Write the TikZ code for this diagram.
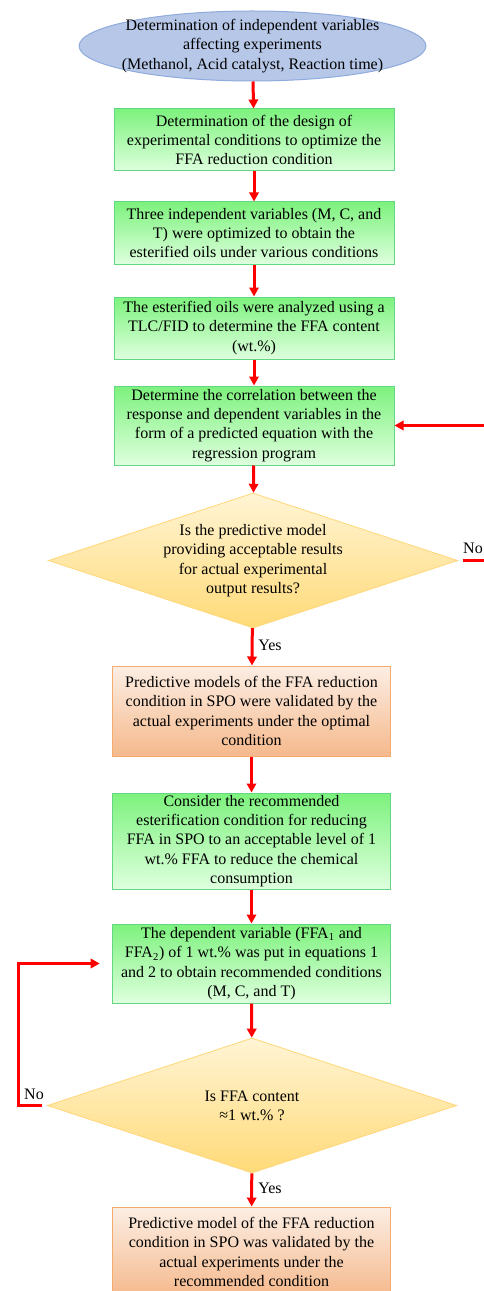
\documentclass[tikz,border=0pt]{standalone}
\usepackage{fontspec}
\setmainfont{Liberation Serif}
\usetikzlibrary{arrows.meta,shapes.geometric}
\definecolor{ovalfill}{RGB}{182,199,232}
\definecolor{ovaldraw}{RGB}{143,170,220}
\definecolor{greentop}{RGB}{125,242,125}
\definecolor{greenbot}{RGB}{222,255,222}
\definecolor{greendraw}{RGB}{100,215,130}
\definecolor{orangetop}{RGB}{252,238,228}
\definecolor{orangebot}{RGB}{245,185,140}
\definecolor{orangedraw}{RGB}{245,170,110}
\definecolor{diatop}{RGB}{255,244,212}
\definecolor{diabot}{RGB}{255,218,120}
\definecolor{diadraw}{RGB}{255,215,120}

\begin{document}
\begin{tikzpicture}[x=0.75pt,y=-0.75pt,>={Triangle[length=6.75pt,width=7pt]}]
		\useasboundingbox (0,0) rectangle (484,1291);
		\clip (0,0) rectangle (484,1291);
		\tikzstyle{every node} = [align=center,font=\fontsize{12}{14.5}\selectfont];
		\tikzstyle{startnode} = [ellipse,fill=ovalfill,draw=ovaldraw,line width=0.75pt,inner xsep=-6pt,inner ysep=-2pt,minimum width=257pt,minimum height=52.5pt];
		\tikzstyle{greenbox} = [rectangle,top color=greentop,bottom color=greenbot,draw=greendraw,line width=0.75pt,inner ysep=1pt,minimum width=210pt];
		\tikzstyle{orangebox} = [rectangle,top color=orangetop,bottom color=orangebot,draw=orangedraw,line width=0.75pt,inner ysep=1pt,minimum width=209pt];
		\tikzstyle{decision} = [diamond,aspect=3,inner sep=0pt,top color=diatop,bottom color=diabot,draw=diadraw,line width=0.6pt,minimum width=307pt,minimum height=101.25pt];
		\tikzstyle{flow} = [->,red,line width=2.25pt];
		% upper part
		\node[startnode] (start) at (252.5, 46) {Determination of independent variables\\affecting experiments\\(Methanol, Acid catalyst, Reaction time)};
		\node[greenbox,minimum height=46.5pt] (design) at (254, 140) {Determination of the design of\\experimental conditions to optimize the\\FFA reduction condition};
		\node[greenbox,minimum height=46.5pt] (optim) at (254, 233) {Three independent variables (M, C, and\\T) were optimized to obtain the\\esterified oils under various conditions};
		\node[greenbox,minimum height=46.5pt] (tlc) at (254, 328) {The esterified oils were analyzed using a\\TLC/FID to determine the FFA content\\(wt.\%)};
		\node[greenbox,minimum height=59.25pt] (regress) at (254, 425.5) {Determine the correlation between the\\response and dependent variables in the\\form of a predicted equation with the\\regression program};
		\node[decision] (accept) at (253, 560.5) {Is the predictive model\\providing acceptable results\\for actual experimental\\output results?};
		% lower part
		\node[orangebox,minimum height=67.5pt] (valid) at (251.5, 711) {Predictive models of the FFA reduction\\condition in SPO were validated by the\\actual experiments under the optimal\\condition};
		\node[greenbox,minimum width=209pt,minimum height=72pt] (recom) at (251.5, 841) {Consider the recommended\\esterification condition for reducing\\FFA in SPO to an acceptable level of 1\\wt.\% FFA to reduce the chemical\\consumption};
		\node[greenbox,minimum width=209pt,minimum height=59.25pt] (depvar) at (251.5, 963.5) {The dependent variable (FFA\textsubscript{1} and\\FFA\textsubscript{2}) of 1 wt.\% was put in equations 1\\and 2 to obtain recommended conditions\\(M, C, and T)};
		\node[decision] (ffacheck) at (252, 1105.5) {Is FFA content\\≈1 wt.\% ?};
		\node[orangebox,minimum height=67.5pt] (final) at (251.5, 1252) {Predictive model of the FFA reduction\\condition in SPO was validated by the\\actual experiments under the\\recommended condition};
		% labels
		\node (yes1) at (270, 645) {Yes};
		\node (yes2) at (270, 1188) {Yes};
		\node (no1) at (473, 548) {No};
		\node (no2) at (34, 1094) {No};
		\coordinate (noR) at (500, 560.5);
		\coordinate (noL) at (18, 1105.5);
		% connectors
		\draw[flow] (start) -- (design);
		\draw[flow] (design) -- (optim);
		\draw[flow] (optim) -- (tlc);
		\draw[flow] (tlc) -- (regress);
		\draw[flow] (regress) -- (accept);
		\draw[flow] (accept) -- (valid);
		\draw[flow] (valid) -- (recom);
		\draw[flow] (recom) -- (depvar);
		\draw[flow] (depvar) -- (ffacheck);
		\draw[flow] (ffacheck) -- (final);
		\draw[flow,shorten <=3.75pt] (accept.east) -- (noR) |- (regress.east);
		\draw[flow,shorten <=3.75pt,shorten >=9pt] (ffacheck.west) -- (noL) |- (depvar.west);
	\end{tikzpicture}
\end{document}
